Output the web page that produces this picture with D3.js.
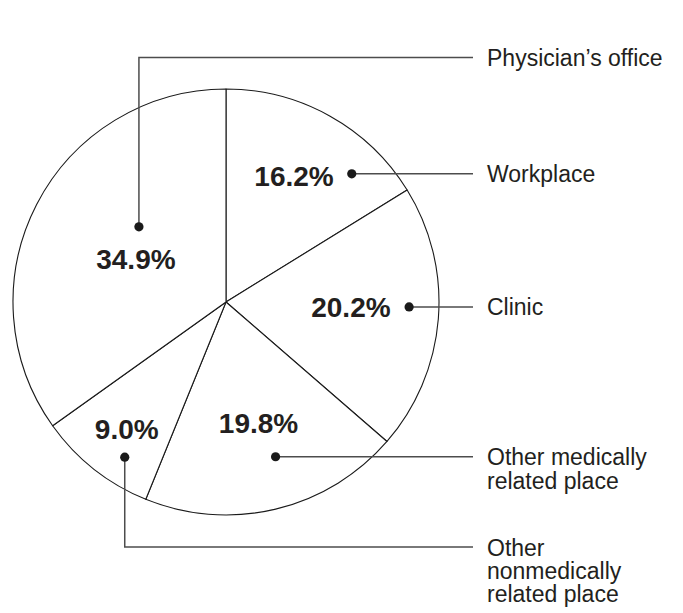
<!DOCTYPE html>
<html>
<head>
<meta charset="utf-8">
<script src="https://cdn.jsdelivr.net/npm/d3@7"></script>
<style>
  html, body { margin: 0; padding: 0; background: #fff; }
  svg { display: block; }
  text { font-family: "Liberation Sans", Arial, Helvetica, sans-serif; fill: #231f20; }
</style>
</head>
<body>
<svg id="chart" width="683" height="613"></svg>
<script>
// ---- data ----
const categories = ["Workplace", "Clinic", "Other medically related place", "Other nonmedically related place", "Physician’s office"];
const labelLines = [["Workplace"], ["Clinic"], ["Other medically", "related place"], ["Other", "nonmedically", "related place"], ["Physician’s office"]];
const values = [16.2, 20.2, 19.8, 9.0, 34.9];
const valueLabels = ["16.2%", "20.2%", "19.8%", "9.0%", "34.9%"];

// ---- layout (positions / styles, not data) ----
const W = 683, H = 613;
const cx = 226, cy = 302, R = 213;
const labelX = 487, leaderEndX = 473;
// anchor dot: t = fraction along slice angle, rf = fraction of radius
// elbowY: leader goes vertical first to this y (null = straight horizontal)
// pct: offset of percent text from dot, with anchor
const layout = [
  { t: 0.763, rf: 0.843, elbowY: null, pdx: -18, pdy: 12.5, anchor: "end" },
  { t: 0.458, rf: 0.86,  elbowY: null, pdx: -18.5, pdy: 10, anchor: "end" },
  { t: 0.44,  rf: 0.763, elbowY: null, pdx: -17, pdy: -24, anchor: "middle" },
  { t: 0.34,  rf: 0.87,  elbowY: 547, pdx: 2, pdy: -18.5, anchor: "middle" },
  { t: 0.608, rf: 0.54,  elbowY: 57.5, pdx: -3, pdy: 42, anchor: "middle" }
];

const svg = d3.select("#chart");
const g = svg.append("g").attr("transform", `translate(${cx},${cy})`);

const pie = d3.pie().sort(null).value(d => d).startAngle(0).endAngle(2 * Math.PI);
const arcs = pie(values);
const arc = d3.arc().innerRadius(0).outerRadius(R);

g.selectAll("path.slice")
  .data(arcs)
  .join("path")
  .attr("class", "slice")
  .attr("d", arc)
  .attr("fill", "#fff")
  .attr("stroke", "#1a1a1a")
  .attr("stroke-width", 1.1)
  .attr("stroke-linejoin", "round");

// anchor positions (absolute)
const anchors = arcs.map((a, i) => {
  const L = layout[i];
  const ang = a.startAngle + (a.endAngle - a.startAngle) * L.t;
  const rr = R * L.rf;
  return { x: cx + rr * Math.sin(ang), y: cy - rr * Math.cos(ang) };
});

// leaders
const lg = svg.append("g");
anchors.forEach((p, i) => {
  const L = layout[i];
  let pts;
  if (L.elbowY == null) pts = [[p.x, p.y], [leaderEndX, p.y]];
  else pts = [[p.x, p.y], [p.x, L.elbowY], [leaderEndX, L.elbowY]];
  lg.append("path")
    .attr("d", d3.line()(pts))
    .attr("fill", "none")
    .attr("stroke", "#4d4d4d")
    .attr("stroke-width", 1.5);
  lg.append("circle")
    .attr("cx", p.x).attr("cy", p.y).attr("r", 4.6)
    .attr("fill", "#1a1a1a");
});

// percent labels
svg.append("g").selectAll("text")
  .data(arcs)
  .join("text")
  .attr("x", (d, i) => anchors[i].x + layout[i].pdx)
  .attr("y", (d, i) => anchors[i].y + layout[i].pdy)
  .attr("text-anchor", (d, i) => layout[i].anchor)
  .attr("font-size", 28)
  .attr("font-weight", "bold")
  .text((d, i) => valueLabels[i]);

// category labels
const tg = svg.append("g");
anchors.forEach((p, i) => {
  const L = layout[i];
  const yLine = L.elbowY == null ? p.y : L.elbowY;
  const t = tg.append("text")
    .attr("x", labelX)
    .attr("y", yLine + 8.5)
    .attr("font-size", 23);
  labelLines[i].forEach((s, k) => {
    t.append("tspan").attr("x", labelX).attr("dy", k === 0 ? 0 : 23.3).text(s);
  });
});
</script>
</body>
</html>
